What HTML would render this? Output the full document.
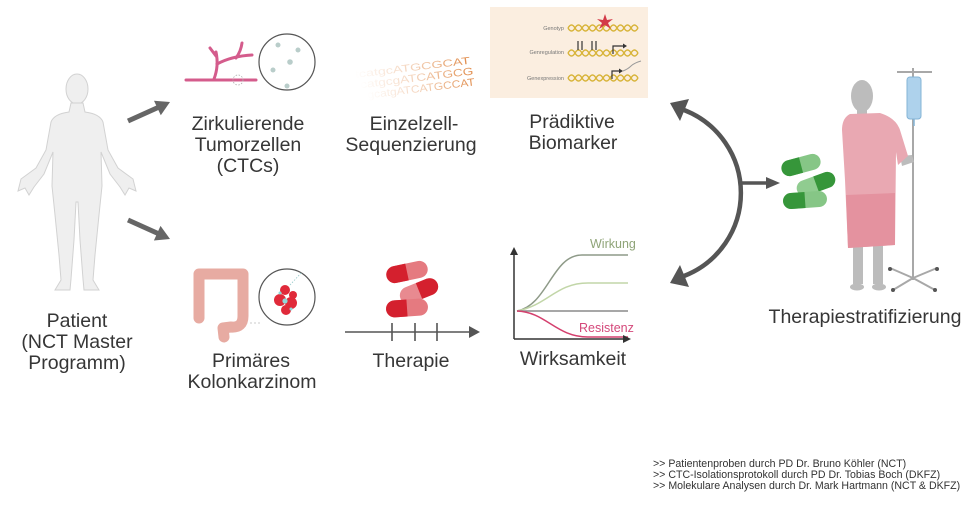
<!DOCTYPE html>
<html><head><meta charset="utf-8">
<style>
html,body{margin:0;padding:0;background:#fff;}
svg{display:block;}
text{font-family:"Liberation Sans",Arial,sans-serif;}
.lbl{font-size:19.5px;fill:#363636;text-anchor:middle;}
</style></head>
<body>
<svg width="980" height="510" viewBox="0 0 980 510" xmlns="http://www.w3.org/2000/svg">
<defs>
<linearGradient id="seqg" x1="0" x2="1" y1="0" y2="0">
<stop offset="0" stop-color="#e9a878" stop-opacity="0"/>
<stop offset="0.4" stop-color="#e9a878" stop-opacity="0.4"/>
<stop offset="1" stop-color="#e08a48" stop-opacity="1"/>
</linearGradient>
</defs>

<!-- Patient figure -->
<g fill="#efefef" stroke="#d2d2d2" stroke-width="1">
<ellipse cx="77" cy="89" rx="11" ry="15"/>
<path d="M71,103 L83,103 L85,112 Q100,114 103,122 L108,150 L118,168 L133,179 L136,191 L129,188 L125,195 L120,187 L110,174 L101,152 L102,186 L99,215 L95,255 L93,280 L99,290 L84,290 L83,279 L80,240 L78,202 L76,202 L74,240 L71,279 L70,290 L55,290 L61,280 L59,255 L55,215 L52,186 L53,152 L44,174 L34,187 L29,195 L25,188 L18,191 L21,179 L36,168 L46,150 L51,122 Q54,114 69,112 Z"/>
</g>
<text class="lbl" x="77" y="327">Patient</text>
<text class="lbl" x="77" y="348">(NCT Master</text>
<text class="lbl" x="77" y="369">Programm)</text>

<!-- patient arrows -->
<g fill="#666" stroke="#666">
<line x1="128" y1="121" x2="158" y2="107.5" stroke-width="5"/>
<polygon points="170,102 160.8,115.2 154,100.8" stroke="none"/>
<line x1="128" y1="220" x2="158" y2="233.5" stroke-width="5"/>
<polygon points="170,239 153.9,240.5 160.5,225.9" stroke="none"/>
</g>

<!-- CTC icon -->
<g stroke="#d45c8c" stroke-width="3" fill="none" stroke-linecap="round">
<line x1="186" y1="80" x2="256" y2="80"/>
<path d="M214,79 Q219,66 216,52"/>
<path d="M217,64 Q232,56 252,55"/>
<path d="M236,58 Q241,51 242,43"/>
<path d="M216,56 L210,48"/>
</g>
<circle cx="238" cy="80" r="5" fill="none" stroke="#aaa" stroke-width="0.8" stroke-dasharray="1.5,1.5"/>
<circle cx="287" cy="62" r="28" fill="#fff" stroke="#555" stroke-width="1.2"/>
<g fill="#b9cdca">
<circle cx="278" cy="45" r="2.5"/><circle cx="298" cy="50" r="2.5"/><circle cx="290" cy="62" r="2.8"/>
<circle cx="273" cy="70" r="2.5"/><circle cx="287" cy="86" r="2.5"/>
</g>
<text class="lbl" x="248" y="130">Zirkulierende</text>
<text class="lbl" x="248" y="151">Tumorzellen</text>
<text class="lbl" x="248" y="172">(CTCs)</text>

<!-- sequence -->
<g font-family="Liberation Sans, sans-serif" fill="url(#seqg)" transform="rotate(-7 420 80)">
<text x="356" y="70" font-size="10" textLength="116" lengthAdjust="spacingAndGlyphs">tcatgcATGCGCAT</text>
<text x="360" y="81" font-size="10.5" textLength="114" lengthAdjust="spacingAndGlyphs">catgcgATCATGCG</text>
<text x="366" y="92" font-size="10.5" textLength="108" lengthAdjust="spacingAndGlyphs">gcatgATCATGCCAT</text>
</g>
<text class="lbl" x="414" y="130">Einzelzell-</text>
<text class="lbl" x="411" y="151">Sequenzierung</text>

<!-- Biomarker box -->
<rect x="490" y="7" width="158" height="91" fill="#fbeee0"/>
<g font-size="5.5" fill="#777" text-anchor="end">
<text x="564" y="30">Genotyp</text>
<text x="564" y="54">Genregulation</text>
<text x="564" y="80">Genexpression</text>
</g>
<g fill="none" stroke="#d8b43a" stroke-width="1.4">
<path d="M568,28 q3.5,-6 7,0 t7,0 t7,0 t7,0 t7,0 t7,0 t7,0 t7,0 t7,0 t7,0"/>
<path d="M568,28 q3.5,6 7,0 t7,0 t7,0 t7,0 t7,0 t7,0 t7,0 t7,0 t7,0 t7,0"/>
<path d="M568,53 q3.5,-6 7,0 t7,0 t7,0 t7,0 t7,0 t7,0 t7,0 t7,0 t7,0 t7,0"/>
<path d="M568,53 q3.5,6 7,0 t7,0 t7,0 t7,0 t7,0 t7,0 t7,0 t7,0 t7,0 t7,0"/>
<path d="M568,78 q3.5,-6 7,0 t7,0 t7,0 t7,0 t7,0 t7,0 t7,0 t7,0 t7,0 t7,0"/>
<path d="M568,78 q3.5,6 7,0 t7,0 t7,0 t7,0 t7,0 t7,0 t7,0 t7,0 t7,0 t7,0"/>
</g>
<polygon points="605,14 607,20 613,19 608,23 611,29 605,25 599,29 602,23 597,19 603,20" fill="#d33a48"/>
<g stroke="#333" stroke-width="1.2" fill="#333">
<line x1="578" y1="41" x2="578" y2="50"/><line x1="582" y1="41" x2="582" y2="50"/>
<line x1="592" y1="41" x2="592" y2="50"/><line x1="596" y1="41" x2="596" y2="50"/>
<polyline points="613,54 613,46 624,46" fill="none"/>
<polygon points="623,43.5 627,46 623,48.5" stroke="none"/>
<polyline points="612,79 612,71 620,71" fill="none"/>
<polygon points="619,68.5 623,71 619,73.5" stroke="none"/>
</g>
<path d="M623,71 q5,-2 8,-5 t10,-5" fill="none" stroke="#999" stroke-width="1"/>
<text class="lbl" x="572" y="128">Prädiktive</text>
<text class="lbl" x="573" y="149">Biomarker</text>

<!-- Colon -->
<path d="M199,318 L199,274 L243,274 L243,316 Q243,328 231,327 L223,328 L224,337" fill="none" stroke="#e7aba2" stroke-width="11" stroke-linejoin="round" stroke-linecap="round"/>
<line x1="250" y1="323" x2="262" y2="323" stroke="#bbb" stroke-width="0.8" stroke-dasharray="2,2"/>
<circle cx="287" cy="297" r="28" fill="#fff" stroke="#555" stroke-width="1.2"/>
<line x1="290" y1="285" x2="302" y2="272" stroke="#9cc" stroke-width="0.8" stroke-dasharray="1.5,1.5"/>
<g fill="#e02a3a">
<circle cx="285" cy="290" r="5"/><circle cx="280" cy="300" r="6"/><circle cx="291" cy="303" r="6"/>
<circle cx="286" cy="310" r="5"/><circle cx="293" cy="295" r="4"/>
</g>
<g fill="#8fd8d8"><circle cx="285" cy="301" r="2.6"/><circle cx="280" cy="293" r="1.5"/><circle cx="291" cy="309" r="1.5"/></g>
<text class="lbl" x="251" y="367">Primäres</text>
<text class="lbl" x="252" y="388">Kolonkarzinom</text>

<!-- Red pills -->
<g transform="rotate(-12 407 272)">
<rect x="386" y="263.5" width="42" height="17" rx="8.5" fill="#e57a80"/>
<path d="M394.5,263.5 H407 V280.5 H394.5 A8.5,8.5 0 0 1 394.5,263.5 Z" fill="#d4202e"/>
</g>
<g transform="rotate(-22 419 291)">
<rect x="399" y="282.5" width="40" height="17" rx="8.5" fill="#e88a90"/>
<path d="M419,282.5 H430.5 A8.5,8.5 0 0 1 430.5,299.5 H419 Z" fill="#d4202e"/>
</g>
<g transform="rotate(-4 407 308)">
<rect x="386" y="299.5" width="42" height="17" rx="8.5" fill="#e57a80"/>
<path d="M394.5,299.5 H407 V316.5 H394.5 A8.5,8.5 0 0 1 394.5,299.5 Z" fill="#d4202e"/>
</g>
<!-- therapy axis -->
<g stroke="#555" stroke-width="1.6">
<line x1="345" y1="332" x2="472" y2="332"/>
<line x1="392" y1="323" x2="392" y2="341"/>
<line x1="415" y1="323" x2="415" y2="341"/>
<line x1="437" y1="323" x2="437" y2="341"/>
</g>
<polygon points="469,326 480,332 469,338" fill="#555"/>
<text class="lbl" x="411" y="367">Therapie</text>

<!-- Chart -->
<g fill="none" stroke-width="1.5">
<path d="M517,311 C548,305 552,255 582,255 L628,255" stroke="#8e9a88"/>
<path d="M517,311 C548,305 556,283 588,283 L628,283" stroke="#c2d6a8"/>
<path d="M517,311 L628,311" stroke="#8a8a8a"/>
<path d="M517,311 C546,312 556,337 588,337 L628,337" stroke="#d4406e"/>
</g>
<g stroke="#333" stroke-width="1.5">
<line x1="514" y1="339" x2="514" y2="254"/>
<line x1="514" y1="339" x2="624" y2="339"/>
</g>
<polygon points="510,255 514,247 518,255" fill="#333"/>
<polygon points="623,335 631,339 623,343" fill="#333"/>
<text x="590" y="248" font-size="12.5" fill="#8fa478">Wirkung</text>
<text x="579" y="332" font-size="12.5" fill="#d4487a">Resistenz</text>
<text class="lbl" x="573" y="365">Wirksamkeit</text>

<!-- curved double arrow -->
<path d="M684,110 A89,89 0 0 1 684,276" fill="none" stroke="#555" stroke-width="4.5"/>
<polygon points="670,103 689,99 680,121" fill="#555"/>
<polygon points="670,283 689,287 680,265" fill="#555"/>
<line x1="741" y1="183" x2="768" y2="183" stroke="#555" stroke-width="3.5"/>
<polygon points="766,177 780,183 766,189" fill="#555"/>

<!-- green pills -->
<g transform="rotate(-15 801 165)">
<rect x="781" y="157" width="40" height="16" rx="8" fill="#86c686"/>
<path d="M789,157 H801 V173 H789 A8,8 0 0 1 789,157 Z" fill="#36963a"/>
</g>
<g transform="rotate(-20 816 184)">
<rect x="796" y="176" width="40" height="16" rx="8" fill="#90cc90"/>
<path d="M816,176 H828 A8,8 0 0 1 828,192 H816 Z" fill="#36963a"/>
</g>
<g transform="rotate(-4 805 200)">
<rect x="783" y="192" width="44" height="16" rx="8" fill="#86c686"/>
<path d="M791,192 H805 V208 H791 A8,8 0 0 1 791,192 Z" fill="#36963a"/>
</g>

<!-- IV pole -->
<g stroke="#a8a8a8" stroke-width="2" fill="none">
<line x1="913" y1="68" x2="913" y2="280"/>
<line x1="897" y1="72" x2="932" y2="72"/>
<line x1="913" y1="278" x2="890" y2="268"/>
<line x1="913" y1="278" x2="937" y2="268"/>
<line x1="913" y1="278" x2="893" y2="290"/>
<line x1="913" y1="278" x2="935" y2="290"/>
</g>
<g fill="#555"><circle cx="890" cy="269" r="2"/><circle cx="937" cy="269" r="2"/><circle cx="893" cy="290" r="2"/><circle cx="935" cy="290" r="2"/></g>
<rect x="907" y="77" width="14" height="42" rx="3" fill="#aed2ec" stroke="#84b4d6" stroke-width="1"/>
<line x1="914" y1="119" x2="914" y2="126" stroke="#84b4d6" stroke-width="1.5"/>

<!-- patient in gown -->
<g fill="#bcbcbc">
<ellipse cx="862" cy="96" rx="11" ry="16"/>
<rect x="857" y="106" width="10" height="10"/>
<rect x="853" y="244" width="10" height="40"/>
<rect x="873" y="244" width="10" height="40"/>
<ellipse cx="857" cy="287" rx="7" ry="3.5"/>
<ellipse cx="879" cy="287" rx="7" ry="3.5"/>
<path d="M900,156 L912,155 L914,162 L902,166 Z"/>
</g>
<path d="M850,114 L880,113 Q896,118 900,130 L908,156 L898,165 L896,152 L895,245 L848,248 L845,180 L842,130 Q842,118 850,114 Z" fill="#e9a8b2"/>
<path d="M846,195 L895,193 L895,245 L848,248 Z" fill="#e4929f"/>
<text class="lbl" x="865" y="323">Therapiestratifizierung</text>

<!-- footer -->
<g font-size="10.6" fill="#333">
<text x="653" y="467">&gt;&gt; Patientenproben durch PD Dr. Bruno Köhler (NCT)</text>
<text x="653" y="478">&gt;&gt; CTC-Isolationsprotokoll durch PD Dr. Tobias Boch (DKFZ)</text>
<text x="653" y="489">&gt;&gt; Molekulare Analysen durch Dr. Mark Hartmann (NCT &amp; DKFZ)</text>
</g>
</svg>
</body></html>
